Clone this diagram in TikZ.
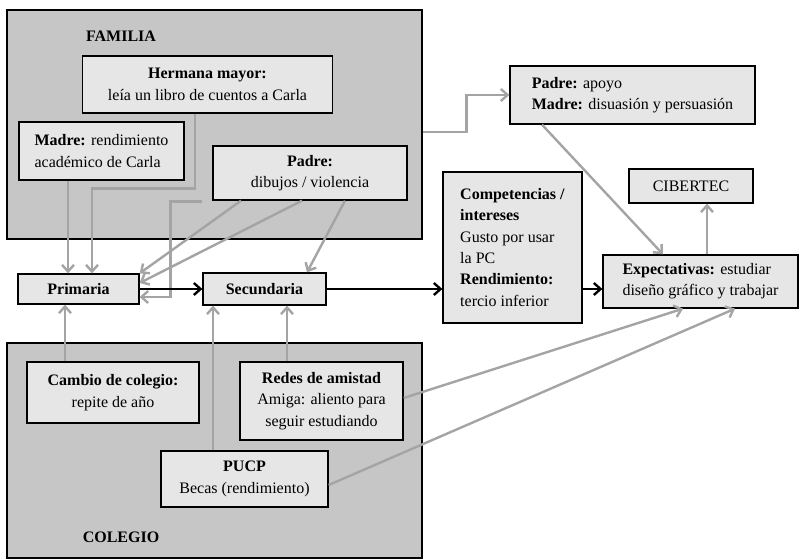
\documentclass[tikz,border=0pt]{standalone}
\usepackage{fontspec}
\setmainfont{Liberation Serif}
\usetikzlibrary{arrows.meta}

\definecolor{areagray}{HTML}{C6C6C6}
\definecolor{boxgray}{HTML}{E6E6E6}
\definecolor{linegray}{HTML}{A4A4A4}

\begin{document}
\begin{tikzpicture}[x=0.75pt, y=-0.75pt,
  font=\fontsize{12}{16}\selectfont,
  area/.style={draw=black, line width=2pt, fill=areagray, inner sep=0pt},
  box/.style={draw=black, line width=1pt, fill=boxgray, inner sep=2pt, align=center},
  lbox/.style={box, align=left},
  garrow/.style={-{Straight Barb[length=5pt,width=9pt]}, line width=1.8pt, linegray},
  barrow/.style={-{Straight Barb[length=5pt,width=9pt]}, line width=1.8pt, black}]
 \useasboundingbox (0,0) rectangle (799,559);

 % the two areas
 \node [area, minimum width=311.25pt, minimum height=171.75pt] (familia) at (214.5,124.5) {};
 \node [area, minimum width=311.25pt, minimum height=161.25pt] (colegio) at (214.5,450.5) {};
 \node (familialab) at (121,36) {\textbf{FAMILIA}};
 \node (colegiolab) at (121,537) {\textbf{COLEGIO}};

 \node [box, minimum width=187.5pt, minimum height=42.75pt] (hermana) at (207.5,84.5)
   {\textbf{Hermana mayor:}\\ leía un libro de cuentos a Carla};
 \node [lbox, minimum width=123.75pt, minimum height=43.5pt] (madre) at (101.5,151)
   {\textbf{Madre:} rendimiento\\ académico de Carla};
 \node [box, minimum width=145.5pt, minimum height=40.5pt] (padre) at (310,173)
   {\textbf{Padre:}\\ dibujos / violencia};

 \node [box, minimum width=90.75pt, minimum height=22.5pt] (primaria) at (78.5,289) {\textbf{Primaria}};
 \node [box, minimum width=92.25pt, minimum height=24pt] (secundaria) at (264.5,289) {\textbf{Secundaria}};

 \node [box, minimum width=129pt, minimum height=45.75pt] (cambio) at (113,392.5)
   {\textbf{Cambio de colegio:}\\ repite de año};
 \node [box, minimum width=122.25pt, minimum height=58.5pt] (redes) at (321.5,401)
   {\textbf{Redes de amistad}\\ Amiga: aliento para\\ seguir estudiando};
 \node [box, minimum width=125.25pt, minimum height=42pt] (pucp) at (244.5,479)
   {\textbf{PUCP}\\ Becas (rendimiento)};

 \node [lbox, minimum width=183.75pt, minimum height=43.5pt] (padreapoyo) at (632.5,95)
   {\textbf{Padre:} apoyo\\ \textbf{Madre:} disuasión y persuasión};
 \node [box, minimum width=93pt, minimum height=25.5pt] (cibertec) at (691,186) {CIBERTEC};
 \node [lbox, minimum width=104.25pt, minimum height=113.25pt] (competencias) at (512.5,247.5)
   {\textbf{Competencias /}\\ \textbf{intereses}\\ Gusto por usar\\ la PC\\ \textbf{Rendimiento:}\\ tercio inferior};
 \node [lbox, minimum width=146.25pt, minimum height=39.75pt] (expectativas) at (700.5,281.5)
   {\textbf{Expectativas:} estudiar\\ diseño gráfico y trabajar};

 % family influences
 \draw [garrow] (madre.south -| 68,0) -- (primaria.north -| 68,0);
 \draw [garrow] (hermana.south -| 195,0) -- ++(0,75) -| (primaria.north -| 92,0);
 \draw [garrow] (padre.south west) ++(-10,1) -- ++(-32,0) |- (primaria.east |- 0,297);
 \draw [garrow] (padre.south -| 241,0) -- (primaria.north east);
 \draw [garrow] (padre.south -| 302,0) -- (primaria.east |- 0,283);
 \draw [garrow] (padre.south -| 345,0) -- (secundaria.north -| 307,0);
 \draw [garrow] (familia.east |- 0,132) -- ++(43,0) |- (padreapoyo.west);
 \draw [garrow] (padreapoyo.south -| 542,0) -- (expectativas.north -| 663,0);

 % school influences
 \draw [garrow] (cambio.north -| 65,0) -- (primaria.south -| 65,0);
 \draw [garrow] (pucp.north -| 213,0) -- (secundaria.south -| 213,0);
 \draw [garrow] (redes.north -| 287,0) -- (secundaria.south -| 287,0);
 \draw [garrow] (redes.east |- 0,398) -- (expectativas.south -| 683,0);
 \draw [garrow] (pucp.east |- 0,485) -- (expectativas.south -| 735,0);
 \draw [garrow] (expectativas.north -| 707,0) -- (cibertec.south -| 707,0);

 % trajectory
 \draw [barrow] (primaria.east) -- (secundaria.west);
 \draw [barrow] (secundaria.east) -- (competencias.west |- secundaria.east);
 \draw [barrow] (competencias.east |- secundaria.east) -- (expectativas.west |- secundaria.east);
\end{tikzpicture}
\end{document}
